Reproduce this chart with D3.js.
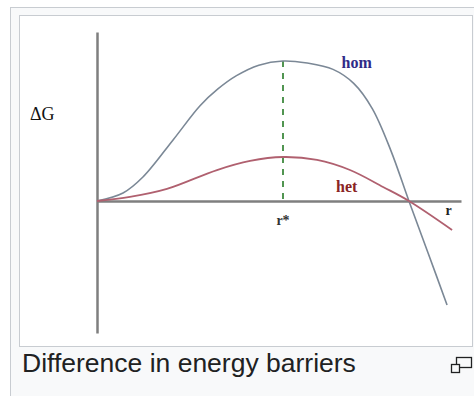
<!DOCTYPE html>
<html>
<head>
<meta charset="utf-8">
<script src="https://cdn.jsdelivr.net/npm/d3@7"></script>
<style>
  html, body { margin: 0; padding: 0; background: #ffffff; }
  svg { display: block; }
</style>
</head>
<body>
<svg id="fig" width="474" height="396"></svg>
<script>
// Free energy of a nucleus vs. radius, in units of r* (x) and of the
// homogeneous barrier height (y).
const homR = [0, 0.140, 0.247, 0.409, 0.554, 0.650, 0.750, 0.870, 1.0, 1.130, 1.269, 1.380, 1.480, 1.580, 1.677, 1.780, 1.882];
const homG = [0, 0.057, 0.171, 0.436, 0.680, 0.800, 0.895, 0.970, 1.0, 0.985, 0.940, 0.840, 0.660, 0.360, 0, -0.371, -0.743];
const hetR = [0, 0.177, 0.376, 0.645, 0.823, 1.0, 1.183, 1.360, 1.538, 1.677, 1.909];
const hetG = [0, 0.029, 0.086, 0.221, 0.286, 0.314, 0.293, 0.221, 0.100, 0, -0.207];
const rStar = 1.0;
const rDomain = [0, 1.957];
const gDomain = [-0.943, 1.207];
const labels = { hom: "hom", het: "het", rStar: "r*", r: "r", dG: "\u0394G" };
const caption = "Difference in energy barriers";

const svg = d3.select("#fig");

// Frame of the figure box
svg.append("rect").attr("x", 10.5).attr("y", 7.5).attr("width", 480).attr("height", 400)
  .attr("fill", "#f8f9fa").attr("stroke", "#c8ccd1").attr("stroke-width", 1);
svg.append("rect").attr("x", 19.5).attr("y", 15.5).attr("width", 453).attr("height", 331)
  .attr("fill", "#ffffff").attr("stroke", "#c8ccd1").attr("stroke-width", 1);

const x = d3.scaleLinear().domain(rDomain).range([97, 461]);
const y = d3.scaleLinear().domain(gDomain).range([333, 32]);

const axisColor = "#7f7f7f";

// Axes: plain lines through the origin
const xAxis = svg.append("g").attr("transform", `translate(0,${y(0)})`)
  .call(d3.axisBottom(x).tickValues([]).tickSizeOuter(0));
const yAxis = svg.append("g").attr("transform", `translate(${x(0)},0)`)
  .call(d3.axisLeft(y).tickValues([]).tickSizeOuter(0));
[xAxis, yAxis].forEach(g => g.select(".domain")
  .attr("stroke", axisColor).attr("stroke-width", 2.5));

// Critical radius marker
const homPeak = d3.max(homG);
svg.append("line")
  .attr("x1", x(rStar)).attr("x2", x(rStar))
  .attr("y1", y(homPeak)).attr("y2", y(0))
  .attr("stroke", "#3f8a3f").attr("stroke-width", 1.8)
  .attr("stroke-dasharray", "6,6");

const line = d3.line().x(d => x(d[0])).y(d => y(d[1])).curve(d3.curveCatmullRom.alpha(0.5));

svg.append("path").datum(homR.map((r, i) => [r, homG[i]]))
  .attr("d", line).attr("fill", "none")
  .attr("stroke", "#7b8896").attr("stroke-width", 1.6);

svg.append("path").datum(hetR.map((r, i) => [r, hetG[i]]))
  .attr("d", line).attr("fill", "none")
  .attr("stroke", "#b0606f").attr("stroke-width", 1.8);

const serif = "'Liberation Serif', 'Times New Roman', serif";

svg.append("text").text(labels.hom)
  .attr("x", x(1.315)).attr("y", y(0.95))
  .attr("font-family", serif).attr("font-weight", "bold").attr("font-size", 16)
  .attr("fill", "#2f2a88");

svg.append("text").text(labels.het)
  .attr("x", x(1.285)).attr("y", y(0.064))
  .attr("font-family", serif).attr("font-weight", "bold").attr("font-size", 16)
  .attr("fill", "#8a2424");

svg.append("text").text(labels.rStar)
  .attr("x", x(rStar)).attr("y", y(0) + 24).attr("text-anchor", "middle")
  .attr("font-family", serif).attr("font-weight", "bold").attr("font-size", 14)
  .attr("fill", "#333333");

svg.append("text").text(labels.r)
  .attr("x", x(1.89)).attr("y", y(0) + 14).attr("text-anchor", "middle")
  .attr("font-family", serif).attr("font-weight", "bold").attr("font-size", 14)
  .attr("fill", "#222222");

svg.append("text").text(labels.dG)
  .attr("x", 30).attr("y", 120)
  .attr("font-family", serif).attr("font-size", 18)
  .attr("fill", "#111111");

// Caption under the image
const cap = svg.append("text").text(caption)
  .attr("x", 22).attr("y", 372)
  .attr("font-family", "'Liberation Sans', Arial, sans-serif").attr("font-size", 20)
  .attr("fill", "#202122");
const w = cap.node().getComputedTextLength();
cap.attr("font-size", 20 * 334 / w);

// Enlarge icon
const icon = svg.append("g").attr("fill", "none").attr("stroke", "#202122").attr("stroke-width", 1.3);
icon.append("rect").attr("x", 456.5).attr("y", 357.5).attr("width", 15).attr("height", 10);
icon.append("rect").attr("x", 451.5).attr("y", 364.5).attr("width", 8).attr("height", 8).attr("fill", "#f8f9fa");
</script>
</body>
</html>
